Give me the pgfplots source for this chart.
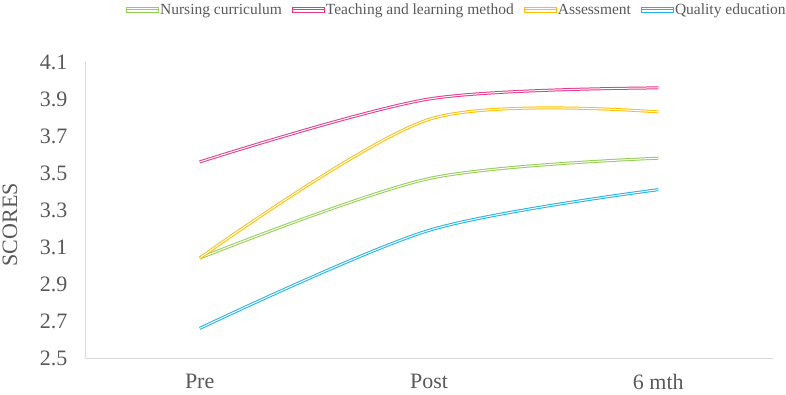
\documentclass[border=0pt]{standalone}
\usepackage{pgfplots}
\pgfplotsset{compat=1.18}
\usepackage{fontspec}
\setmainfont{Liberation Serif}
\definecolor{cgreen}{HTML}{92D050}
\definecolor{cpink}{HTML}{E8388C}
\definecolor{cyellow}{HTML}{FFC000}
\definecolor{cblue}{HTML}{1CB4E8}
\definecolor{txt}{HTML}{595959}
\definecolor{axgray}{HTML}{D9D9D9}
\tikzset{dline/.style={draw=#1, smooth, tension=0.5, line width=1pt, double=white, double distance=1pt}}
\pgfplotsset{lgd/.style={legend image code/.code={%
  \path[fill=#1] (0pt,0.5pt) rectangle (30pt,1.6pt);
  \path[fill=#1] (0pt,-0.5pt) rectangle (30pt,-1.6pt);}}}
\begin{document}
\begin{tikzpicture}
\path[use as bounding box] (-85pt,-36pt) rectangle (701pt,358pt);
\begin{axis}[
  at={(0,0)}, anchor=south west,
  scale only axis, width=688pt, height=296pt,
  xmin=-0.5, xmax=2.5, ymin=2.5, ymax=4.1,
  xtick={0,1,2}, xticklabels={Pre,Post,6 mth},
  ytick={2.5,2.7,2.9,3.1,3.3,3.5,3.7,3.9,4.1},
  axis x line*=bottom, axis y line*=left,
  axis line style={draw=axgray, line width=0.8pt, -},
  major tick length=0pt,
  /pgf/number format/assume math mode=true,
  yticklabel style={/pgf/number format/fixed, /pgf/number format/fixed zerofill, /pgf/number format/precision=1, font=\fontsize{22}{24}\selectfont, text=txt, xshift=-14pt},
  xticklabel style={font=\fontsize{22}{24}\selectfont, text=txt, yshift=-13pt},
  ylabel={SCORES},
  ylabel style={at={(axis description cs:0,0.45)}, anchor=center, yshift=75pt, xshift=0pt, font=\fontsize{22}{24}\selectfont, text=txt},
  legend columns=4,
  legend style={draw=none, fill=none, inner sep=0pt, at={(axis description cs:0.0595,1.176)}, anchor=west, font=\fontsize{15.5}{17}\selectfont, text=txt,
    /tikz/every even column/.append style={column sep=9pt},
    /tikz/every odd column/.append style={column sep=0pt},
    /tikz/every node/.append style={inner sep=1pt}},
]
\addplot[dline=cgreen, lgd=cgreen] coordinates {(0,3.04) (1,3.47) (2,3.58)};
\addlegendentry{Nursing curriculum}
\addplot[dline=cpink, lgd=cpink] coordinates {(0,3.56) (1,3.90) (2,3.96)};
\addlegendentry{Teaching and learning method}
\addplot[dline=cyellow, lgd=cyellow] coordinates {(0,3.04) (1,3.79) (2,3.83)};
\addlegendentry{Assessment}
\addplot[dline=cblue, lgd=cblue] coordinates {(0,2.66) (1,3.19) (2,3.41)};
\addlegendentry{Quality education}
\end{axis}
\end{tikzpicture}
\end{document}
